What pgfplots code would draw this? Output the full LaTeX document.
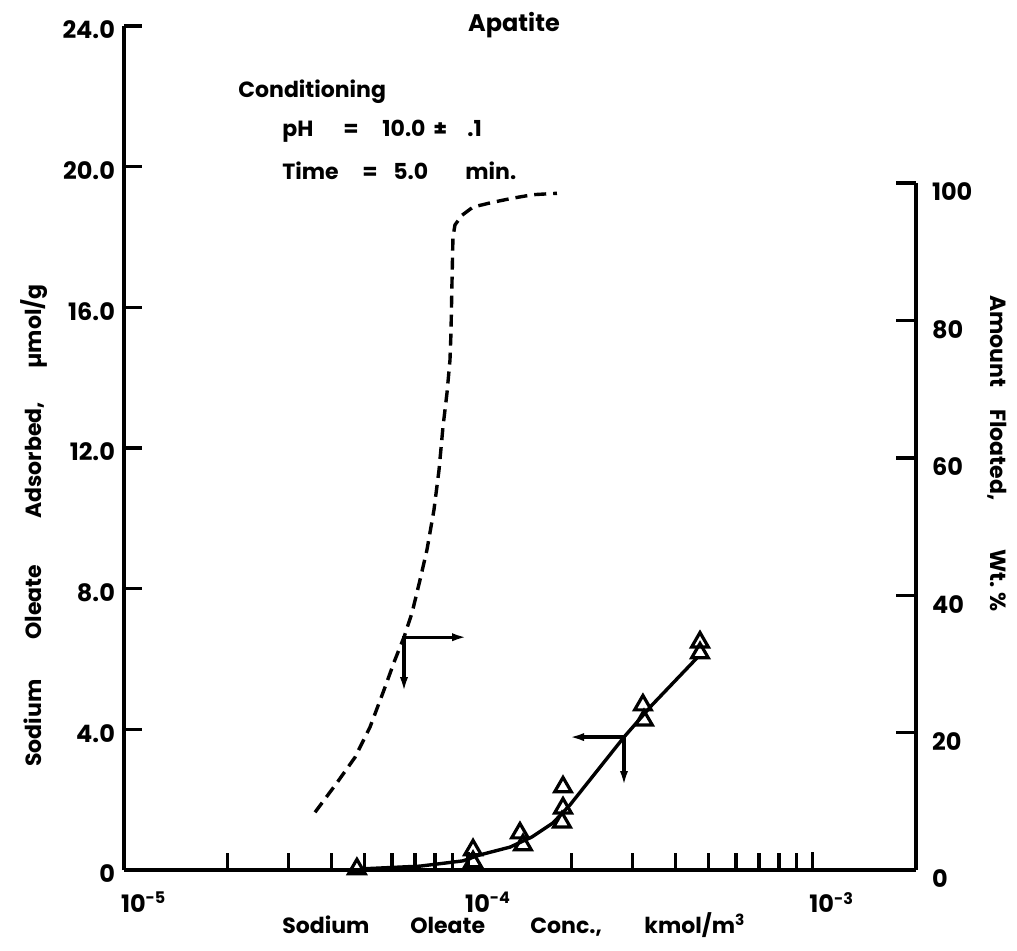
\documentclass[border=0pt]{standalone}
\usepackage{fontspec}
\setmainfont{Poppins}
\usepackage{pgfplots}
\usepackage{pgfplotstable}
\pgfplotsset{compat=1.18}
\usetikzlibrary{arrows.meta}

% Sodium oleate adsorbed on apatite, umol/g (measured points)
\pgfplotstableread{
conc      ads
4.75e-5   0.03
1.033e-4  0.57
1.033e-4  0.23
1.414e-4  1.05
1.443e-4  0.71
1.886e-4  2.36
1.886e-4  1.76
1.873e-4  1.36
3.219e-4  4.69
3.241e-4  4.26
4.715e-4  6.48
4.715e-4  6.17
}\adsorbed

% Adsorption curve drawn through the points
\pgfplotstableread{
conc      ads
4.85e-5   0.03
7.24e-5   0.11
9.66e-5   0.26
1.082e-4  0.43
1.322e-4  0.65
1.532e-4  0.94
1.764e-4  1.34
1.976e-4  1.85
2.836e-4  3.78
3.42e-4   4.69
4.62e-4   6.03
}\adscurve

% Amount floated, wt. %
\pgfplotstableread{
conc      floated
3.59e-5   8.4
4.157e-5  12.7
4.690e-5  16.4
5.185e-5  20.8
5.655e-5  25.8
6.128e-5  30.6
6.51e-5   33.9
6.867e-5  37.4
7.244e-5  42.2
7.591e-5  46.6
7.954e-5  52.4
8.226e-5  58.2
8.449e-5  64.5
8.677e-5  69.4
8.853e-5  74.2
8.913e-5  78.2
8.972e-5  85.4
9.032e-5  92.1
9.154e-5  93.9
9.594e-5  95.3
1.033e-4  96.5
1.180e-4  97.2
1.350e-4  97.8
1.543e-4  98.3
1.811e-4  98.5
}\floated

\begin{document}
\begin{tikzpicture}[x=1pt,y=1pt,font=\bfseries\fontsize{11}{13}\selectfont]
\useasboundingbox (0,0) rectangle (508.5,475);

% left axis: adsorption density
\begin{axis}[
  at={(62pt,40pt)}, anchor=south west,
  scale only axis, width=396pt, height=422pt,
  xmode=log, xmin=1e-5, xmax=2e-3, ymin=0, ymax=24,
  tick align=inside,
  axis line style={line width=2pt},
  tick style={line width=1.7pt, black},
  tick label style={font=\bfseries\fontsize{12}{14}\selectfont},
  clip=false,
  axis x line*=bottom, axis y line*=left,
  xtick={1e-5,1e-4,1e-3},
  xticklabels={10\textsuperscript{-5},10\textsuperscript{-4},10\textsuperscript{-3}},
  minor xtick={2e-5,3e-5,4e-5,5e-5,6e-5,7e-5,8e-5,9e-5,2e-4,3e-4,4e-4,5e-4,6e-4,7e-4,8e-4,9e-4},
  ytick={0,4,8,12,16,20,24},
  yticklabels={0,4.0,8.0,12.0,16.0,20.0,24.0},
  major tick length=9pt, minor tick length=8.5pt,
  xticklabel style={anchor=north west, xshift=-5pt, yshift=-7.5pt},
  yticklabel style={xshift=-1pt, yshift=-2pt},
]
\addplot[black, line width=1.7pt, no markers] table[x=conc, y=ads] {\adscurve};
\addplot[only marks, mark=triangle, mark size=4.8pt,
  mark options={line width=1.6pt, fill=white, draw=black}] table[x=conc, y=ads] {\adsorbed};
% arrows pointing each curve to its own axis
\draw[line width=1.6pt, {Latex[length=8pt,width=4pt]}-{Latex[length=8pt,width=4pt]}]
  (axis cs:1e-4,6.62) -- (axis cs:6.51e-5,6.62) -- (axis cs:6.51e-5,5.03);
\draw[line width=1.6pt, {Latex[length=8pt,width=4pt]}-{Latex[length=8pt,width=4pt]}]
  (axis cs:1.95e-4,3.78) -- (axis cs:2.836e-4,3.78) -- (axis cs:2.836e-4,2.36);
\end{axis}

% right axis: flotation recovery
\begin{axis}[
  at={(62pt,40pt)}, anchor=south west,
  scale only axis, width=396pt, height=343.5pt,
  xmode=log, xmin=1e-5, xmax=2e-3, ymin=0, ymax=100,
  tick align=inside,
  axis line style={line width=2pt},
  tick style={line width=1.7pt, black},
  tick label style={font=\bfseries\fontsize{12}{14}\selectfont},
  clip=false,
  axis x line=none, axis y line*=right,
  ytick={0,20,40,60,80,100},
  yticklabels={0,20,40,60,80,100},
  major tick length=10pt,
  yticklabel style={anchor=west, xshift=4.5pt, yshift=-4.5pt},
]
\addplot[black, line width=1.7pt, dash pattern=on 6pt off 3.5pt, no markers]
  table[x=conc, y=floated] {\floated};
\end{axis}

% titles and conditions
\node[anchor=base, inner sep=0] at (257,459) {\fontsize{12}{14}\selectfont Apatite};
\node[anchor=base west, inner sep=0] at (119,426) {Conditioning};
\node[anchor=base west, inner sep=0] at (141,406.5) {pH};
\node[anchor=base west, inner sep=0] at (171.5,406.5) {=};
\node[anchor=base west, inner sep=0] at (191,406.5) {10.0};
\node[anchor=base west, inner sep=0] at (216.5,406.5) {±};
\node[anchor=base west, inner sep=0] at (233.5,406.5) {.1};
\node[anchor=base west, inner sep=0] at (141,385) {Time};
\node[anchor=base west, inner sep=0] at (181,385) {=};
\node[anchor=base west, inner sep=0] at (196.5,385) {5.0};
\node[anchor=base west, inner sep=0] at (232.5,385) {min.};

% x-axis title
\node[anchor=base west, inner sep=0] at (141,8.5) {Sodium};
\node[anchor=base west, inner sep=0] at (205,8.5) {Oleate};
\node[anchor=base west, inner sep=0] at (265,8.5) {Conc.,};
\node[anchor=base west, inner sep=0] at (322,8.5) {kmol/m\textsuperscript{3}};

% left axis title
\node[anchor=base west, inner sep=0, rotate=90] at (20.75,91.5) {Sodium};
\node[anchor=base west, inner sep=0, rotate=90] at (20.75,155) {Oleate};
\node[anchor=base west, inner sep=0, rotate=90] at (20.75,215.5) {Adsorbed,};
\node[anchor=base west, inner sep=0, rotate=90] at (20.75,290.5) {µmol/g};

% right axis title
\node[anchor=base west, inner sep=0, rotate=-90] at (495,327.5) {Amount};
\node[anchor=base west, inner sep=0, rotate=-90] at (495,270.5) {Floated,};
\node[anchor=base west, inner sep=0, rotate=-90] at (495,200.5) {Wt.};
\node[anchor=base west, inner sep=0, rotate=-90] at (495,179) {\%};
\end{tikzpicture}
\end{document}
